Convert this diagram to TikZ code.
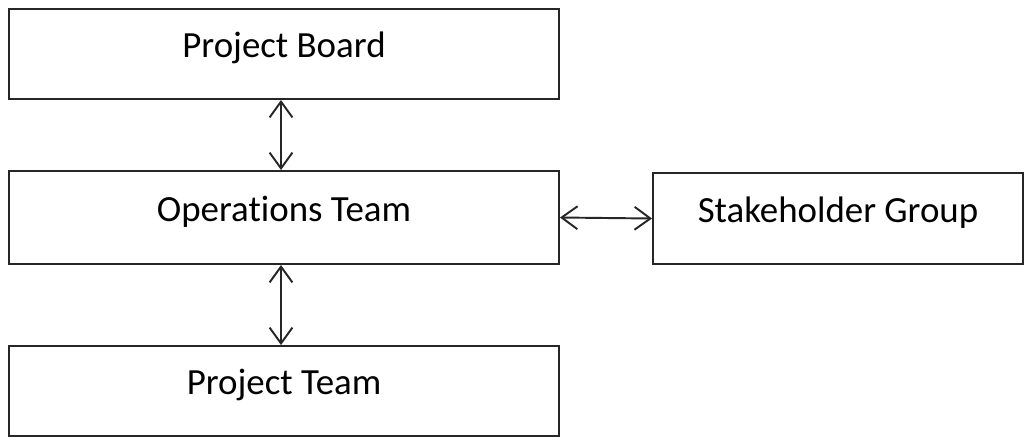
\documentclass[tikz,border=0pt]{standalone}
\usepackage{fontspec}
\setmainfont[Ligatures=NoCommon]{Carlito}
\usetikzlibrary{arrows.meta}

\begin{document}
\begin{tikzpicture}[x=0.02cm, y=-0.02cm, line width=1.1pt,
  box/.style={draw=black!85, rectangle, minimum height=90*0.02cm,
    font=\fontsize{21}{25}\selectfont, text height=15pt, text depth=10.5pt},
  link/.style={black!85, {Straight Barb[length=9pt, width=13pt]}-{Straight Barb[length=9pt, width=13pt]}}]

  % Page size
  \useasboundingbox (0,0) rectangle (1025,437);

  % Width of the left column
  \def\W{550}

  % Boxes
  \node[box, minimum width=\W*0.02cm] (board) at (284,54) {Project Board};
  \node[box, minimum width=\W*0.02cm, minimum height=93*0.02cm] (ops) at (284,217.5) {Operations Team};
  \node[box, minimum width=370*0.02cm, minimum height=91*0.02cm] (stake) at (838,218.5) {Stakeholder Group};
  \node[box, minimum width=\W*0.02cm] (team) at (284,391) {Project Team};

  % Two-way links
  \draw[link] ([xshift=-3*0.02cm]board.south) -- ([xshift=-3*0.02cm]ops.north);
  \draw[link] ([xshift=-3*0.02cm]ops.south) -- ([xshift=-3*0.02cm]team.north);
  \draw[link] (ops.east) -- (stake.west);

\end{tikzpicture}
\end{document}
